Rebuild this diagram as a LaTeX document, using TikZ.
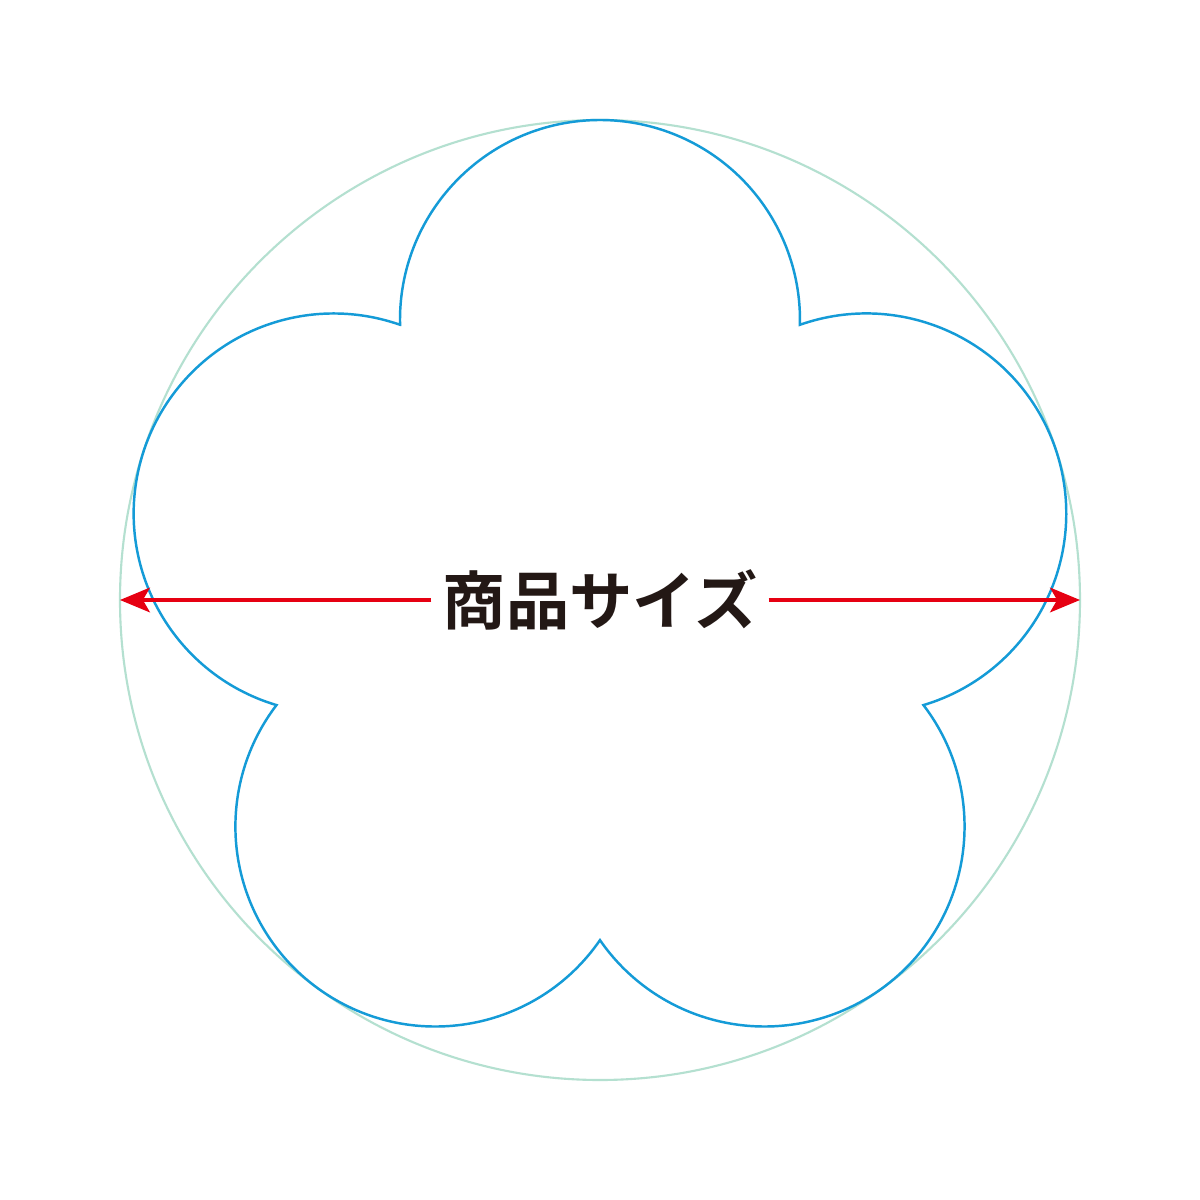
\documentclass[tikz,border=0pt]{standalone}
\usepackage{fontspec}
\newfontfamily\cjk{Noto Sans CJK JP}[BoldFont={Noto Sans CJK JP Bold}]
\usetikzlibrary{arrows.meta}
\definecolor{flowerblue}{RGB}{20,155,215}
\definecolor{ringgreen}{RGB}{180,224,208}
\definecolor{arrowred}{RGB}{230,0,18}
\definecolor{inkblack}{RGB}{35,24,21}
\tikzset{
  flower/.style={draw=flowerblue, line width=0.7pt, line join=miter},
  ring/.style={draw=ringgreen, line width=0.6pt},
  dimline/.style={draw=arrowred, line width=1pt, -{Stealth[length=8.5pt,width=7pt,inset=2pt]}},
  label/.style={fill=white, text=inkblack, inner sep=3pt, font=\cjk\bfseries\fontsize{18pt}{18pt}\selectfont}
}
\begin{document}
\begin{tikzpicture}[x=0.01cm,y=0.01cm]
\useasboundingbox (-600,-600) rectangle (600,600);
\fill[white] (-600,-600) rectangle (600,600);
% outer ring
\draw[ring] (0,0) circle[radius=480];
% five-petal flower
\draw[flower] (126:340.16)
  arc[start angle=181.38, end angle=-1.38, radius=200]
  arc[start angle=109.38, end angle=-73.38, radius=200]
  arc[start angle=37.38, end angle=-145.38, radius=200]
  arc[start angle=-34.62, end angle=-217.38, radius=200]
  arc[start angle=-106.62, end angle=-289.38, radius=200]
  -- cycle;
% dimension
\coordinate (L) at (-480,0);
\coordinate (R) at (480,0);
\node[label] (t) at (0,0) {商品サイズ};
\draw[dimline] (t.west) -- (L);
\draw[dimline] (t.east) -- (R);
\end{tikzpicture}
\end{document}
